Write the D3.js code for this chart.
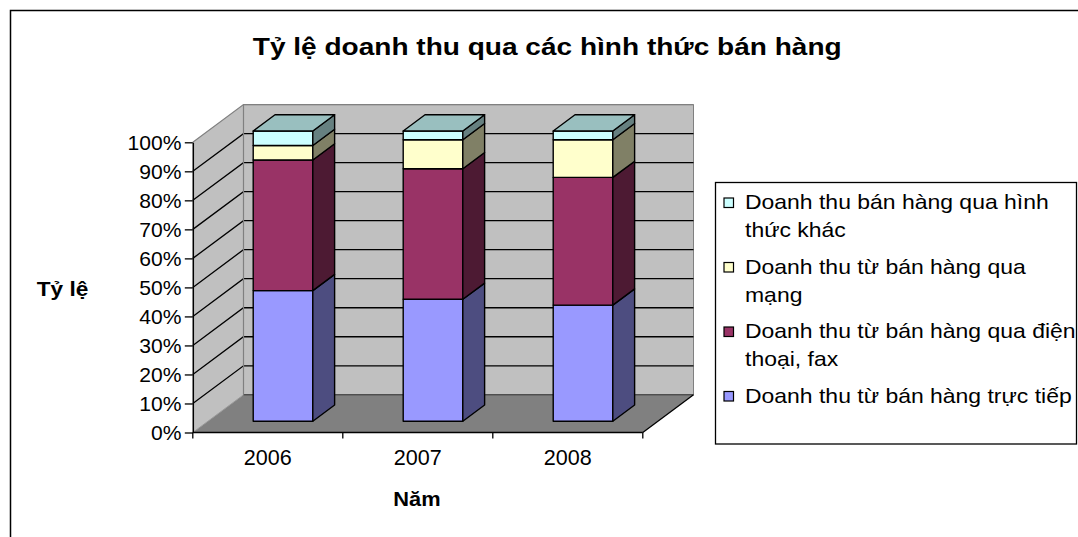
<!DOCTYPE html>
<html><head><meta charset="utf-8">
<script src="https://cdn.jsdelivr.net/npm/d3@7"></script>
<style>
body{margin:0;background:#fff}
svg{display:block}
text{font-family:Arial,"Liberation Sans",Helvetica,sans-serif;fill:#000}
</style>
</head><body>
<svg id="c" width="1078" height="537"></svg>
<script>
// ---------- data ----------
const categories = ["2006", "2007", "2008"];
const seriesNames = [
  "Doanh thu từ bán hàng trực tiếp",
  "Doanh thu từ bán hàng qua điện thoại, fax",
  "Doanh thu từ bán hàng qua mạng",
  "Doanh thu bán hàng qua hình thức khác"
];
const direct = [45, 42, 40];
const phone  = [45, 45, 44];
const online = [5, 10, 13];
const other  = [5, 3, 3];
const yTicks = [0, 0.1, 0.2, 0.3, 0.4, 0.5, 0.6, 0.7, 0.8, 0.9, 1];
const chartTitle = "Tỷ lệ doanh thu qua các hình thức bán hàng";
const xTitle = "Năm";
const yTitle = "Tỷ lệ";

const frontColors = ["#9999FF", "#993366", "#FFFFCC", "#CCFFFF"];

// ---------- setup ----------
const svg = d3.select("#c");
const table = categories.map((c, i) => ({cat: c, s0: direct[i], s1: phone[i], s2: online[i], s3: other[i]}));
const keys = ["s0", "s1", "s2", "s3"];
const stacked = d3.stack().keys(keys).offset(d3.stackOffsetExpand)(table);

const x = d3.scaleBand().domain(categories).range([192.8, 642.8]);
const y = d3.scaleLinear().domain([0, 1]).range([432.5, 142.3]);
const DX = 50.7, DY = -37.7;
const P = (px, py, z) => [px + z * DX, py + z * DY];
const poly = pts => "M" + pts.map(p => p[0].toFixed(2) + "," + p[1].toFixed(2)).join("L") + "Z";
const line = pts => "M" + pts.map(p => p[0].toFixed(2) + "," + p[1].toFixed(2)).join("L");
const x0 = x.range()[0], x1 = x.range()[1];

function shade(c, k) { const o = d3.rgb(c); return d3.rgb(o.r * k, o.g * k, o.b * k).formatHex(); }

function scaledText(g, str, px, py, anchor, size, weight, targetW, sx) {
  const t = g.append("text").text(str).attr("text-anchor", anchor)
    .style("font-size", size + "px").style("font-weight", weight);
  let s = sx;
  if (s == null) s = targetW / t.node().getComputedTextLength();
  t.attr("transform", `translate(${px},${py}) scale(${s},1)`);
  return t;
}
function measure(str, size, weight) {
  const t = svg.append("text").text(str).style("font-size", size + "px").style("font-weight", weight);
  const w = t.node().getComputedTextLength(); t.remove(); return w;
}

// ---------- outer border ----------
svg.append("path").attr("d", "M10.5,545L10.5,10.5L1090,10.5")
  .attr("fill", "none").attr("stroke", "#000").attr("stroke-width", 1.5);

// ---------- walls & floor ----------
const g3 = svg.append("g");
g3.append("path").attr("d", poly([P(x0, y(0), 0), P(x0, y(1), 0), P(x0, y(1), 1), P(x0, y(0), 1)]))
  .attr("fill", "#C0C0C0").attr("stroke", "none");
g3.append("path").attr("d", poly([P(x0, y(0), 1), P(x0, y(1), 1), P(x1, y(1), 1), P(x1, y(0), 1)]))
  .attr("fill", "#C0C0C0").attr("stroke", "#808080").attr("stroke-width", 1);
g3.append("path").attr("d", poly([P(x0, y(0), 0), P(x1, y(0), 0), P(x1, y(0), 1), P(x0, y(0), 1)]))
  .attr("fill", "#808080").attr("stroke", "none");
// floor edges
g3.append("path").attr("d", line([P(x0, y(0), 0), P(x0, y(0), 1)])).attr("stroke", "#999").attr("stroke-width", 1).attr("fill", "none");
g3.append("path").attr("d", line([P(x0, y(0), 1), P(x1, y(0), 1)])).attr("stroke", "#333").attr("stroke-width", 1).attr("fill", "none");
g3.append("path").attr("d", line([P(x1, y(0), 0), P(x1, y(0), 1)])).attr("stroke", "#000").attr("stroke-width", 1.3).attr("fill", "none");
// gridlines
yTicks.filter(t => t > 0).forEach(t => {
  g3.append("path").attr("d", line([P(x0, y(t), 0), P(x0, y(t), 1), P(x1, y(t), 1)]))
    .attr("fill", "none").attr("stroke", t === 1 ? "#808080" : "#000").attr("stroke-width", t === 1 ? 1.2 : 1.3);
});
g3.append("path").attr("d", line([P(x0, y(0), 1), P(x0, y(1), 1)])).attr("stroke", "#808080").attr("stroke-width", 1.2).attr("fill", "none");

// ---------- bars ----------
const zf = 0.3, zb = 0.73;
const hw = x.bandwidth() * 0.1987;
const gb = svg.append("g").attr("stroke", "#000").attr("stroke-width", 1.4).attr("stroke-linejoin", "round");
categories.forEach((c, ci) => {
  const cx = x(c) + x.bandwidth() / 2;
  stacked.forEach((layer, li) => {
    const d = layer[ci];
    const col = frontColors[li];
    gb.append("path").attr("d", poly([P(cx - hw, y(d[0]), zf), P(cx + hw, y(d[0]), zf), P(cx + hw, y(d[1]), zf), P(cx - hw, y(d[1]), zf)]))
      .attr("fill", col);
    gb.append("path").attr("d", poly([P(cx + hw, y(d[0]), zf), P(cx + hw, y(d[0]), zb), P(cx + hw, y(d[1]), zb), P(cx + hw, y(d[1]), zf)]))
      .attr("fill", shade(col, 0.5));
    if (li === stacked.length - 1) {
      gb.append("path").attr("d", poly([P(cx - hw, y(d[1]), zf), P(cx + hw, y(d[1]), zf), P(cx + hw, y(d[1]), zb), P(cx - hw, y(d[1]), zb)]))
        .attr("fill", shade(col, 0.75));
    }
  });
});

// ---------- axes ----------
const yAxisG = svg.append("g").attr("transform", `translate(${x0},0)`)
  .call(d3.axisLeft(y).tickValues(yTicks).tickFormat(d3.format(".0%")).tickSize(8).tickSizeOuter(0));
yAxisG.select(".domain").attr("stroke", "#000").attr("stroke-width", 1.5);
yAxisG.selectAll(".tick line").attr("stroke", "#000").attr("stroke-width", 1.3);
yAxisG.selectAll(".tick text").remove();
const ySx = 54 / measure("100%", 20, "normal");
yTicks.forEach(t => {
  scaledText(svg, d3.format(".0%")(t), 181.5, y(t) + 7.8, "end", 20, "normal", null, ySx);
});

// x axis line + ticks at band boundaries
svg.append("path").attr("d", `M${x0},${y(0)}L${x1},${y(0)}`).attr("stroke", "#000").attr("stroke-width", 1.5);
const bounds = categories.map(c => x(c)).concat([x1]);
bounds.forEach(b => svg.append("path").attr("d", `M${b},${y(0)}L${b},${y(0) + 6}`).attr("stroke", "#000").attr("stroke-width", 1.3));
const xSx = 48 / measure("2006", 21.5, "normal");
categories.forEach(c => {
  scaledText(svg, c, x(c) + x.bandwidth() / 2, 465, "middle", 21.5, "normal", null, xSx);
});

// ---------- titles ----------
scaledText(svg, chartTitle, 547.2, 55, "middle", 24, "bold", 589);
scaledText(svg, xTitle, 417, 505.7, "middle", 21, "bold", 47.3);
scaledText(svg, yTitle, 62.5, 295.7, "middle", 21, "bold", 51.6);

// ---------- legend ----------
svg.append("rect").attr("x", 715.5).attr("y", 182.5).attr("width", 361).attr("height", 261.5)
  .attr("fill", "#fff").attr("stroke", "#000").attr("stroke-width", 1.3);
const legFS = 20.5;
const legSx = 327 / measure("Doanh thu từ bán hàng trực tiếp", legFS, "normal");
const maxW = 331;
function wrap(str) {
  const words = str.split(" ");
  const lines = []; let cur = "";
  words.forEach(w => {
    const test = cur ? cur + " " + w : w;
    if (cur && measure(test, legFS, "normal") * legSx > maxW) { lines.push(cur); cur = w; }
    else cur = test;
  });
  if (cur) lines.push(cur);
  return lines;
}
let ly = 209;
const legOrder = [3, 2, 1, 0];
legOrder.forEach(si => {
  svg.append("rect").attr("x", 724).attr("y", ly - 11).attr("width", 9.5).attr("height", 9.5)
    .attr("fill", frontColors[si]).attr("stroke", "#000").attr("stroke-width", 1.2);
  const lines = wrap(seriesNames[si]);
  lines.forEach((ln, k) => {
    scaledText(svg, ln, 745, ly + k * 28, "start", legFS, "normal", null, legSx);
  });
  ly += lines.length * 28 + 8.5;
});
</script>
</body></html>
